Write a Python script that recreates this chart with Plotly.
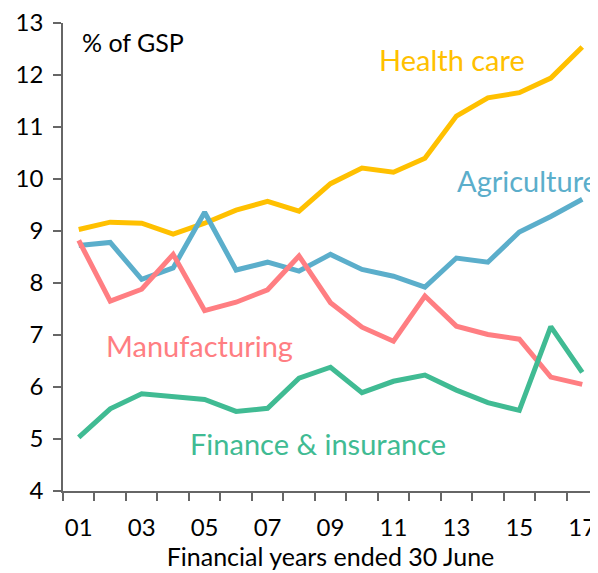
import plotly.graph_objects as go

years = ["01", "02", "03", "04", "05", "06", "07", "08", "09", "10", "11", "12", "13", "14", "15", "16", "17"]
health_care = [9.03, 9.17, 9.15, 8.94, 9.15, 9.40, 9.57, 9.38, 9.91, 10.21, 10.13, 10.40, 11.21, 11.56, 11.66, 11.94, 12.54]
agriculture = [8.72, 8.78, 8.07, 8.29, 9.36, 8.25, 8.40, 8.23, 8.55, 8.26, 8.13, 7.92, 8.48, 8.40, 8.98, 9.28, 9.61]
manufacturing = [8.82, 7.65, 7.88, 8.55, 7.47, 7.63, 7.87, 8.52, 7.62, 7.15, 6.88, 7.75, 7.17, 7.01, 6.92, 6.19, 6.05]
finance = [5.03, 5.58, 5.87, 5.81, 5.76, 5.53, 5.59, 6.17, 6.38, 5.89, 6.11, 6.23, 5.94, 5.70, 5.55, 7.16, 6.28]

y_ticks = [4, 5, 6, 7, 8, 9, 10, 11, 12, 13]

FONT = "Lato"
xs = list(range(1, len(years) + 1))

series = [
    ("Health care", health_care, "#FFC000", 12.85, 12.30),
    ("Agriculture", agriculture, "#5BAECB", 15.25, 9.98),
    ("Manufacturing", manufacturing, "#FF7E82", 4.85, 6.80),
    ("Finance & insurance", finance, "#40BB93", 8.6, 4.92),
]

fig = go.Figure()
for name, vals, col, lx, ly in series:
    fig.add_trace(go.Scatter(x=xs, y=vals, mode="lines", name=name,
                             line=dict(color=col, width=5), showlegend=False))
    fig.add_annotation(x=lx, y=ly, xref="x", yref="y", text=name, showarrow=False,
                       font=dict(family=FONT, size=29, color=col), xanchor="center", yanchor="middle")

fig.add_annotation(x=1.05, y=12.64, xref="x", yref="y", text="% of GSP", showarrow=False,
                   font=dict(family=FONT, size=25, color="#000000"), xanchor="left", yanchor="middle")

# page body adds an 8px offset, so the figure is sized 8px smaller
fig.update_layout(
    width=590, height=565,
    margin=dict(l=55, r=0, t=15, b=82),
    plot_bgcolor="white", paper_bgcolor="white",
    font=dict(family=FONT, size=22, color="#000000"),
    xaxis=dict(
        range=[0.5, len(years) + 0.5],
        tickvals=xs[::2], ticktext=years[::2],
        ticks="", showgrid=False, zeroline=False, automargin=False,
        showline=True, linecolor="#666666", linewidth=1.5,
        tickfont=dict(family=FONT, size=24, color="#000000"),
        ticklabelstandoff=14, ticklabeloverflow="allow",
        minor=dict(tickvals=[x - 0.5 for x in xs] + [len(years) + 0.5],
                   ticks="outside", ticklen=8, tickcolor="#666666", tickwidth=1.5, showgrid=False),
        title=dict(text="Financial years ended 30 June", font=dict(family=FONT, size=25, color="#000000"), standoff=4),
    ),
    yaxis=dict(
        range=[4, 13], tickvals=y_ticks, automargin=False,
        ticks="outside", ticklen=8, tickcolor="#666666", tickwidth=1.5,
        showgrid=False, zeroline=False,
        showline=True, linecolor="#666666", linewidth=1.5,
        tickfont=dict(family=FONT, size=24, color="#000000"),
        ticklabelstandoff=5, ticklabeloverflow="allow",
    ),
)

fig.write_html("out.html")
